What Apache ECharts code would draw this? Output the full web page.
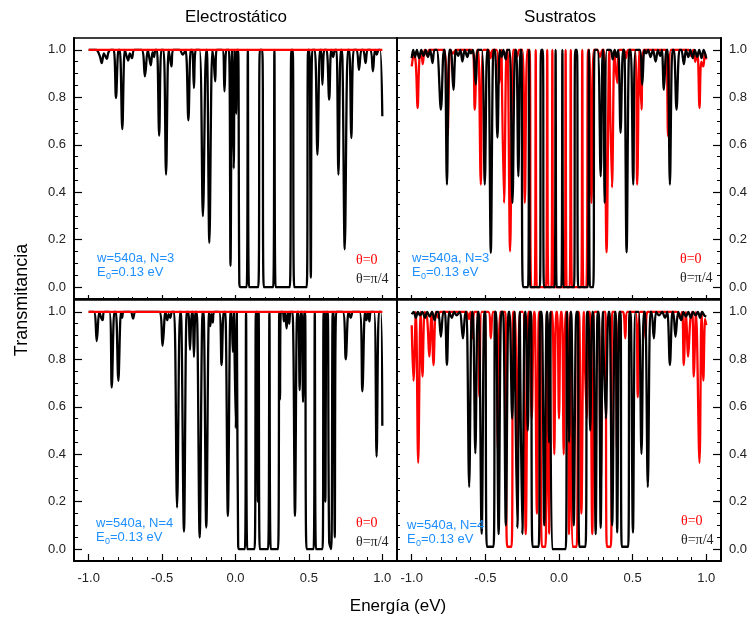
<!DOCTYPE html>
<html><head><meta charset="utf-8">
<script src="https://cdn.jsdelivr.net/npm/echarts@6/dist/echarts.min.js"></script>
<style>html,body{margin:0;padding:0;background:#fff}#c{width:752px;height:623px}</style>
</head><body><div id="c"></div>
<script>
// ---- tick values ----
const xMajorTicks = [-1.0, -0.5, 0.0, 0.5, 1.0];
const xMinorTicks = [-1.0,-0.9,-0.8,-0.7,-0.6,-0.5,-0.4,-0.3,-0.2,-0.1,0.0,0.1,0.2,0.3,0.4,0.5,0.6,0.7,0.8,0.9,1.0];
const yMajorTicks = [0.0, 0.2, 0.4, 0.6, 0.8, 1.0];
const yMinorTicks = [0.0,0.05,0.1,0.15,0.2,0.25,0.3,0.35,0.4,0.45,0.5,0.55,0.6,0.65,0.7,0.75,0.8,0.85,0.9,0.95,1.0];
const panelTitles = ['Electrostático', 'Sustratos'];
const xName = 'Energía (eV)';
const yName = 'Transmitancia';
const infoN3 = ['w=540a, N=3', 'E', '0', '=0.13 eV'];
const infoN4 = ['w=540a, N=4', 'E', '0', '=0.13 eV'];
const legendTexts = ['θ=0', 'θ=π/4'];

// ---- Electrostático, N=3 ----
const elecN3Theta0 = [[-1.0,1.0],[1.0,1.0]];
const elecN3ThetaPi4 = [
[-1.0,1.0],[-0.95,1.0],[-0.925,0.975],[-0.911,0.944],[-0.897,0.985],[-0.888,0.975],[-0.877,0.962],[-0.865,0.99],[-0.85,1.0],
[-0.83,1.0],[-0.814,0.797],[-0.797,1.0],[-0.788,1.0],[-0.771,0.666],[-0.754,1.0],[-0.74,0.97],[-0.731,0.955],[-0.72,0.985],[-0.705,0.965],[-0.69,1.0],
[-0.64,1.0],[-0.617,0.888],[-0.598,1.0],[-0.588,0.97],[-0.577,0.935],[-0.565,0.99],[-0.555,0.97],[-0.545,1.0],
[-0.535,1.0],[-0.52,0.638],[-0.505,1.0],[-0.49,1.0],[-0.473,0.474],[-0.456,1.0],[-0.445,0.96],[-0.436,0.93],[-0.425,1.0],
[-0.38,1.0],[-0.36,0.98],[-0.34,1.0],[-0.321,0.703],[-0.305,1.0],[-0.295,1.0],[-0.283,0.839],[-0.27,1.0],
[-0.245,1.0],[-0.222,0.299],[-0.2,1.0],[-0.195,1.0],[-0.178,0.187],[-0.158,1.0],[-0.148,0.95],[-0.138,0.867],[-0.128,1.0],
[-0.09,1.0],[-0.075,0.825],[-0.062,1.0],[-0.045,1.0],[-0.034,0.09],[-0.024,1.0],[-0.02,1.0],[-0.012,0.5],[-0.006,1.0],[-0.002,1.0],[0.004,0.73],[0.01,1.0],
[0.018,1.0],[0.026,0.02],[0.034,0.0],[0.076,0.0],[0.084,1.0],[0.092,0.0],[0.155,0.0],[0.166,1.0],[0.182,1.0],[0.193,0.0],
[0.257,0.0],[0.265,1.0],[0.273,0.0],[0.37,0.0],[0.38,1.0],[0.39,1.0],[0.4,0.0],[0.485,0.0],[0.494,1.0],[0.503,1.0],[0.513,0.04],[0.523,1.0],
[0.54,1.0],[0.558,0.558],[0.575,1.0],[0.583,1.0],[0.592,0.853],[0.605,1.0],[0.62,1.0],[0.638,0.79],[0.652,1.0],[0.665,0.97],[0.678,1.0],
[0.688,1.0],[0.701,0.474],[0.717,1.0],[0.725,1.0],[0.744,0.159],[0.765,1.0],[0.775,1.0],[0.789,0.628],[0.805,1.0],
[0.825,1.0],[0.841,0.916],[0.858,1.0],[0.87,1.0],[0.886,0.944],[0.9,1.0],[0.92,1.0],[0.936,0.909],[0.95,1.0],[0.962,0.98],[0.975,1.0],[0.985,1.0],[1.0,0.72]
];

// ---- Electrostático, N=4 ----
const elecN4Theta0 = [[-1.0,1.0],[1.0,1.0]];
const elecN4ThetaPi4 = [
[-1.0,1.0],[-0.965,1.0],[-0.945,0.877],[-0.928,1.0],[-0.915,0.975],[-0.905,0.965],[-0.895,1.0],[-0.86,1.0],[-0.843,0.681],[-0.825,1.0],[-0.815,1.0],[-0.798,0.709],[-0.78,1.0],[-0.772,0.975],[-0.762,1.0],[-0.715,1.0],[-0.697,0.972],[-0.68,1.0],
[-0.52,1.0],[-0.497,0.857],[-0.477,1.0],[-0.465,0.965],[-0.455,0.99],[-0.445,0.975],[-0.432,1.0],
[-0.418,1.0],[-0.398,0.175],[-0.378,1.0],[-0.372,1.0],[-0.351,0.074],[-0.332,1.0],[-0.322,1.0],[-0.31,0.84],[-0.298,1.0],[-0.292,1.0],[-0.283,0.81],[-0.272,1.0],
[-0.264,1.0],[-0.244,0.049],[-0.224,1.0],[-0.218,1.0],[-0.199,0.091],[-0.18,1.0],[-0.172,0.94],[-0.164,0.99],[-0.155,0.955],[-0.145,1.0],
[-0.112,1.0],[-0.095,0.776],[-0.08,1.0],[-0.07,1.0],[-0.052,0.14],[-0.034,1.0],[-0.028,1.0],[-0.018,0.832],[-0.01,1.0],[-0.006,1.0],[0.002,0.51],[0.009,1.0],
[0.012,1.0],[0.018,0.02],[0.024,0.0],[0.064,0.0],[0.072,1.0],[0.08,0.0],[0.13,0.0],[0.139,1.0],[0.146,1.0],[0.152,0.2],[0.158,1.0],[0.165,0.0],
[0.222,0.0],[0.231,1.0],[0.24,0.0],[0.29,0.0],[0.298,1.0],[0.303,0.63],[0.309,1.0],
[0.322,1.0],[0.33,0.96],[0.338,1.0],[0.348,0.93],[0.358,1.0],[0.366,0.95],[0.375,1.0],[0.388,1.0],[0.405,0.14],[0.42,1.0],[0.428,1.0],[0.437,0.67],[0.446,1.0],[0.452,1.0],[0.46,0.62],[0.468,1.0],
[0.474,1.0],[0.484,0.0],[0.532,0.0],[0.54,1.0],[0.548,0.0],[0.593,0.0],[0.6,1.0],[0.606,1.0],[0.612,0.2],[0.62,1.0],[0.628,1.0],[0.638,0.03],[0.652,0.0],[0.662,1.0],[0.668,1.0],[0.676,0.05],[0.686,1.0],
[0.73,1.0],[0.751,0.8],[0.77,1.0],[0.785,0.975],[0.8,1.0],[0.845,1.0],[0.864,0.665],[0.882,1.0],[0.892,0.965],[0.903,1.0],[0.912,0.96],[0.922,1.0],[0.944,1.0],[0.961,0.39],[0.977,1.0],[0.99,1.0],[1.0,0.52]
];

// ---- Sustratos, N=3 ----
const sustN3Theta0 = [
[-1.0,0.93],[-0.985,0.985],[-0.972,0.94],[-0.96,0.755],[-0.948,0.96],[-0.935,0.985],[-0.925,0.94],[-0.912,1.0],[-0.895,0.975],[-0.88,1.0],[-0.78,1.0],[-0.757,0.635],[-0.738,1.0],[-0.72,0.985],[-0.7,1.0],
[-0.59,1.0],[-0.572,0.748],[-0.556,1.0],[-0.548,1.0],[-0.531,0.432],[-0.515,1.0],[-0.48,1.0],[-0.465,0.965],[-0.45,1.0],[-0.425,1.0],[-0.405,0.86],[-0.39,1.0],[-0.386,1.0],[-0.373,0.355],[-0.356,1.0],[-0.35,1.0],[-0.332,0.151],[-0.312,1.0],[-0.3,1.0],[-0.285,0.97],[-0.27,1.0],[-0.248,1.0],[-0.232,0.355],[-0.215,1.0],
[-0.2,1.0],[-0.188,0.0],[-0.165,0.0],[-0.158,1.0],[-0.151,0.0],[-0.088,0.0],[-0.08,1.0],[-0.072,0.0],[-0.052,0.0],[-0.045,1.0],[-0.038,0.0],[0.038,0.0],[0.045,1.0],[0.052,0.0],[0.072,0.0],[0.08,1.0],[0.088,0.0],[0.151,0.0],[0.158,1.0],[0.165,0.0],[0.185,0.0],[0.197,1.0],
[0.205,1.0],[0.22,0.355],[0.236,1.0],[0.26,1.0],[0.278,0.97],[0.295,1.0],[0.305,1.0],[0.323,0.147],[0.342,1.0],[0.346,1.0],[0.36,0.42],[0.376,1.0],[0.38,1.0],[0.395,0.86],[0.41,1.0],[0.44,1.0],[0.455,0.965],[0.47,1.0],
[0.515,1.0],[0.531,0.432],[0.546,1.0],[0.55,1.0],[0.56,0.748],[0.575,1.0],[0.7,1.0],[0.725,1.0],[0.741,0.635],[0.76,1.0],[0.88,1.0],[0.895,0.975],[0.912,1.0],[0.925,0.95],[0.94,0.985],[0.954,0.755],[0.966,0.95],[0.98,0.93],[0.99,0.985],[1.0,0.96]
];
const sustN3ThetaPi4 = [
[-1.0,0.965],[-0.99,1.0],[-0.978,0.97],[-0.965,1.0],[-0.95,0.965],[-0.935,1.0],[-0.92,0.975],[-0.905,1.0],[-0.89,0.97],[-0.875,1.0],[-0.859,0.944],[-0.845,1.0],[-0.83,1.0],[-0.802,0.748],[-0.782,1.0],[-0.775,1.0],[-0.761,0.432],[-0.745,1.0],[-0.735,1.0],[-0.717,0.832],[-0.7,1.0],[-0.685,0.975],[-0.67,1.0],[-0.656,0.951],[-0.64,1.0],[-0.622,0.97],[-0.608,1.0],[-0.598,0.985],[-0.585,1.0],[-0.565,0.855],[-0.55,1.0],
[-0.525,1.0],[-0.504,0.432],[-0.488,1.0],[-0.48,1.0],[-0.463,0.145],[-0.445,1.0],[-0.435,1.0],[-0.418,0.63],[-0.402,1.0],[-0.39,0.97],[-0.378,1.0],[-0.362,0.96],[-0.35,1.0],[-0.335,1.0],[-0.316,0.355],[-0.298,1.0],[-0.29,1.0],[-0.276,0.467],[-0.262,1.0],
[-0.255,1.0],[-0.245,0.0],[-0.21,0.0],[-0.203,1.0],[-0.196,0.0],[-0.13,0.0],[-0.122,1.0],[-0.11,1.0],[-0.102,0.0],[-0.03,0.0],[-0.023,1.0],[-0.016,0.0],[0.016,0.0],[0.023,1.0],[0.03,0.0],[0.102,0.0],[0.11,1.0],[0.122,1.0],[0.13,0.0],[0.196,0.0],[0.203,1.0],[0.21,0.0],[0.232,0.0],[0.242,1.0],
[0.262,1.0],[0.283,0.467],[0.297,1.0],[0.302,1.0],[0.31,0.355],[0.325,1.0],[0.35,1.0],[0.365,0.96],[0.378,1.0],[0.39,0.97],[0.402,1.0],[0.418,0.65],[0.435,1.0],[0.443,1.0],[0.459,0.147],[0.477,1.0],[0.487,1.0],[0.504,0.432],[0.52,1.0],
[0.548,1.0],[0.565,0.853],[0.58,1.0],[0.592,0.985],[0.605,1.0],[0.622,0.97],[0.638,1.0],[0.656,0.951],[0.672,1.0],[0.687,0.975],[0.698,1.0],[0.712,0.832],[0.73,1.0],[0.738,1.0],[0.753,0.432],[0.77,1.0],[0.78,1.0],[0.798,0.748],[0.818,1.0],
[0.83,1.0],[0.848,0.94],[0.862,1.0],[0.878,0.97],[0.892,1.0],[0.908,0.965],[0.922,1.0],[0.938,0.97],[0.952,1.0],[0.968,0.965],[0.982,1.0],[1.0,0.965]
];

// ---- Sustratos, N=4 ----
const sustN4Theta0 = [
[-1.0,0.944],[-0.988,0.709],[-0.972,1.0],[-0.956,0.364],[-0.94,1.0],[-0.927,0.727],[-0.912,1.0],[-0.895,0.97],[-0.881,0.811],[-0.866,1.0],[-0.852,0.776],[-0.836,1.0],[-0.82,0.975],[-0.805,1.0],
[-0.63,1.0],[-0.612,0.97],[-0.6,1.0],[-0.598,1.0],[-0.588,0.888],[-0.575,1.0],[-0.555,1.0],[-0.54,0.64],[-0.525,1.0],
[-0.48,1.0],[-0.463,0.888],[-0.448,1.0],[-0.43,1.0],[-0.414,0.41],[-0.398,1.0],[-0.365,1.0],[-0.352,0.01],[-0.322,0.01],[-0.312,1.0],[-0.3,1.0],[-0.283,0.266],[-0.266,1.0],[-0.245,1.0],[-0.226,0.063],[-0.208,1.0],
[-0.2,1.0],[-0.185,0.55],[-0.17,1.0],[-0.165,1.0],[-0.15,0.15],[-0.136,1.0],[-0.128,1.0],[-0.116,0.01],[-0.092,0.01],[-0.082,1.0],[-0.078,1.0],[-0.068,0.063],[-0.056,1.0],[-0.045,1.0],[-0.032,0.4],[-0.02,1.0],[-0.012,1.0],[0.0,0.55],[0.012,1.0],
[0.02,1.0],[0.032,0.4],[0.045,1.0],[0.056,1.0],[0.068,0.063],[0.078,1.0],[0.082,1.0],[0.092,0.01],[0.12,0.01],[0.13,1.0],[0.136,1.0],[0.152,0.15],[0.168,1.0],[0.172,1.0],[0.188,0.55],[0.2,1.0],
[0.21,1.0],[0.226,0.063],[0.242,1.0],[0.266,1.0],[0.283,0.266],[0.3,1.0],[0.315,1.0],[0.325,0.01],[0.352,0.01],[0.362,1.0],[0.38,1.0],[0.395,0.4],[0.41,1.0],[0.435,1.0],[0.45,0.888],[0.465,1.0],
[0.52,1.0],[0.535,0.64],[0.55,1.0],[0.575,1.0],[0.588,0.888],[0.6,1.0],[0.8,1.0],[0.82,0.975],[0.836,1.0],[0.847,0.776],[0.862,1.0],[0.877,0.811],[0.892,0.97],[0.905,1.0],[0.915,0.727],[0.93,1.0],[0.954,0.364],[0.968,1.0],[0.98,0.71],[0.992,0.97],[1.0,0.944]
];
const sustN4ThetaPi4 = [
[-1.0,0.99],[-0.987,1.0],[-0.972,0.975],[-0.958,1.0],[-0.943,0.985],[-0.928,1.0],[-0.91,0.975],[-0.895,1.0],[-0.878,0.98],[-0.862,1.0],[-0.845,0.965],[-0.83,1.0],[-0.82,1.0],[-0.802,0.895],[-0.785,1.0],[-0.775,1.0],[-0.761,0.776],[-0.745,1.0],[-0.728,0.975],[-0.712,1.0],[-0.695,0.985],[-0.675,1.0],
[-0.652,0.888],[-0.635,1.0],[-0.628,1.0],[-0.61,0.262],[-0.592,1.0],[-0.585,1.0],[-0.568,0.404],[-0.552,1.0],[-0.545,1.0],[-0.525,0.065],[-0.507,1.0],[-0.5,1.0],[-0.49,0.01],[-0.444,0.01],[-0.435,1.0],[-0.428,1.0],[-0.41,0.063],[-0.392,1.0],[-0.38,1.0],[-0.361,0.1],[-0.343,1.0],
[-0.336,1.0],[-0.318,0.55],[-0.302,1.0],[-0.298,1.0],[-0.283,0.09],[-0.266,1.0],[-0.262,1.0],[-0.249,0.063],[-0.232,1.0],[-0.226,1.0],[-0.212,0.5],[-0.198,1.0],[-0.19,1.0],[-0.18,0.01],[-0.138,0.01],[-0.128,1.0],[-0.118,1.0],[-0.1,0.1],[-0.083,1.0],[-0.078,1.0],[-0.068,0.45],[-0.058,1.0],
[-0.054,1.0],[-0.046,0.0],[0.046,0.0],[0.054,1.0],[0.058,1.0],[0.068,0.45],[0.078,1.0],[0.083,1.0],[0.1,0.1],[0.118,1.0],[0.128,1.0],[0.138,0.01],[0.18,0.01],[0.19,1.0],[0.198,1.0],[0.212,0.5],[0.226,1.0],[0.232,1.0],[0.249,0.063],[0.262,1.0],[0.27,1.0],[0.283,0.09],[0.298,1.0],
[0.302,1.0],[0.318,0.55],[0.336,1.0],[0.343,1.0],[0.361,0.1],[0.38,1.0],[0.385,1.0],[0.395,0.07],[0.41,1.0],[0.418,1.0],[0.426,0.01],[0.47,0.01],[0.478,1.0],[0.486,1.0],[0.502,0.07],[0.52,1.0],[0.54,1.0],[0.56,0.402],[0.576,1.0],[0.585,1.0],[0.603,0.262],[0.62,1.0],[0.628,1.0],[0.644,0.888],[0.66,1.0],
[0.68,0.985],[0.7,1.0],[0.72,0.975],[0.735,1.0],[0.753,0.776],[0.77,1.0],[0.776,1.0],[0.791,0.895],[0.81,1.0],[0.83,0.965],[0.845,1.0],[0.862,0.98],[0.878,1.0],[0.895,0.975],[0.91,1.0],[0.928,0.985],[0.943,1.0],[0.958,0.975],[0.972,1.0],[0.987,0.985],[1.0,0.98]
];

// ---- layout ----
const FONT = '"Liberation Sans", Arial, sans-serif';
const SERIF = '"Liberation Serif", "Times New Roman", serif';
const BLUE = '#1e8fff';
const grids = [
  {left:74, top:38, width:323, height:261},
  {left:397, top:38, width:324, height:261},
  {left:74, top:300, width:323, height:261},
  {left:397, top:300, width:324, height:261}
].map(g => Object.assign({show:true, borderColor:'#000', borderWidth:1.5, backgroundColor:'transparent'}, g));

const xAxes = [], yAxes = [], xIdx = [], yIdx = [];
grids.forEach((g, i) => {
  const bottomRow = i >= 2;
  xIdx.push(xAxes.length);
  xAxes.push({gridIndex:i, type:'value', min:-1.1, max:1.1, position:'bottom',
    axisLine:{show:true, onZero:false, lineStyle:{color:'#000', width:2}},
    axisTick:{show:true, inside:true, length: bottomRow ? 7 : 4, customValues:xMajorTicks, lineStyle:{color:'#000', width:1.2}},
    axisLabel:{show:bottomRow, customValues:xMajorTicks, formatter:v=>v.toFixed(1), fontSize:13, color:'#222', fontFamily:FONT, margin:11},
    splitLine:{show:false}});
  xAxes.push({gridIndex:i, type:'value', min:-1.1, max:1.1, position:'bottom',
    axisLine:{show:false, onZero:false},
    axisTick:{show:true, inside:true, length: bottomRow ? 4 : 2, customValues:xMinorTicks, lineStyle:{color:'#000', width:1}},
    axisLabel:{show:false}, splitLine:{show:false}});
  const right = (i % 2 === 1);
  yIdx.push(yAxes.length);
  yAxes.push({gridIndex:i, type:'value', min:-0.05, max:1.05, position: right ? 'right' : 'left',
    axisLine:{show:true, onZero:false, lineStyle:{color:'#000', width:2}},
    axisTick:{show:true, inside:true, length:8, customValues:yMajorTicks, lineStyle:{color:'#000', width:1.2}},
    axisLabel:{show:true, customValues:yMajorTicks, formatter:v=>v.toFixed(1), fontSize:13, color:'#222', fontFamily:FONT, margin:8},
    splitLine:{show:false}});
  yAxes.push({gridIndex:i, type:'value', min:-0.05, max:1.05, position: right ? 'right' : 'left',
    axisLine:{show:false, onZero:false},
    axisTick:{show:true, inside:true, length:4, customValues:yMinorTicks, lineStyle:{color:'#000', width:1}},
    axisLabel:{show:false}, splitLine:{show:false}});
  if (right) {
    yAxes.push({gridIndex:i, type:'value', min:-0.05, max:1.05, position:'left',
      axisLine:{show:true, onZero:false, lineStyle:{color:'#000', width:2}},
      axisTick:{show:true, inside:true, length:3, customValues:yMinorTicks, lineStyle:{color:'#000', width:1}},
      axisLabel:{show:false}, splitLine:{show:false}});
  }
});

function line(data, gi, color) {
  return {type:'line', data:data, xAxisIndex:xIdx[gi], yAxisIndex:yIdx[gi], showSymbol:false, symbol:'none',
    smooth:0.35, clip:true, lineStyle:{color:color, width:2.3}, itemStyle:{color:color}, silent:true};
}
const series = [
  line(elecN3ThetaPi4, 0, '#000'), line(elecN3Theta0, 0, '#ff0000'),
  line(sustN3Theta0, 1, '#ff0000'), line(sustN3ThetaPi4, 1, '#000'),
  line(elecN4ThetaPi4, 2, '#000'), line(elecN4Theta0, 2, '#ff0000'),
  line(sustN4Theta0, 3, '#ff0000'), line(sustN4ThetaPi4, 3, '#000')
];

function txt(x, y, text, font, fill, align, rot) {
  return {type:'text', x:x, y:y, rotation:rot||0, z:100,
    style:{text:text, font:font, fill:fill, align:align||'left', verticalAlign:'middle'}};
}
function info(x, y, lines) {
  return [
    txt(x, y, lines[0], '13px ' + FONT, BLUE),
    txt(x, y + 14, lines[1], '13px ' + FONT, BLUE),
    txt(x + 9, y + 19, lines[2], '9px ' + FONT, BLUE),
    txt(x + 14, y + 14, lines[3], '13px ' + FONT, BLUE)
  ];
}
function legend(x, y) {
  return [
    txt(x, y, legendTexts[0], '14px ' + SERIF, '#ff0000'),
    txt(x, y + 19, legendTexts[1], '14px ' + SERIF, '#222')
  ];
}
const graphic = [
  txt(236, 17, panelTitles[0], '17px ' + FONT, '#000', 'center'),
  txt(560, 17, panelTitles[1], '17px ' + FONT, '#000', 'center'),
  txt(22, 300, yName, '18px ' + FONT, '#000', 'center', Math.PI/2),
  txt(398, 606, xName, '17px ' + FONT, '#000', 'center'),
  ...info(97, 258, infoN3), ...info(412, 258, infoN3),
  ...info(96, 523, infoN4), ...info(407, 525, infoN4),
  ...legend(356, 260), ...legend(680, 259),
  ...legend(356, 523), ...legend(681, 521)
];

const chart = echarts.init(document.getElementById('c'), null, {renderer:'canvas'});
chart.setOption({animation:false, backgroundColor:'#fff', grid:grids, xAxis:xAxes, yAxis:yAxes, series:series, graphic:graphic});
</script></body></html>
